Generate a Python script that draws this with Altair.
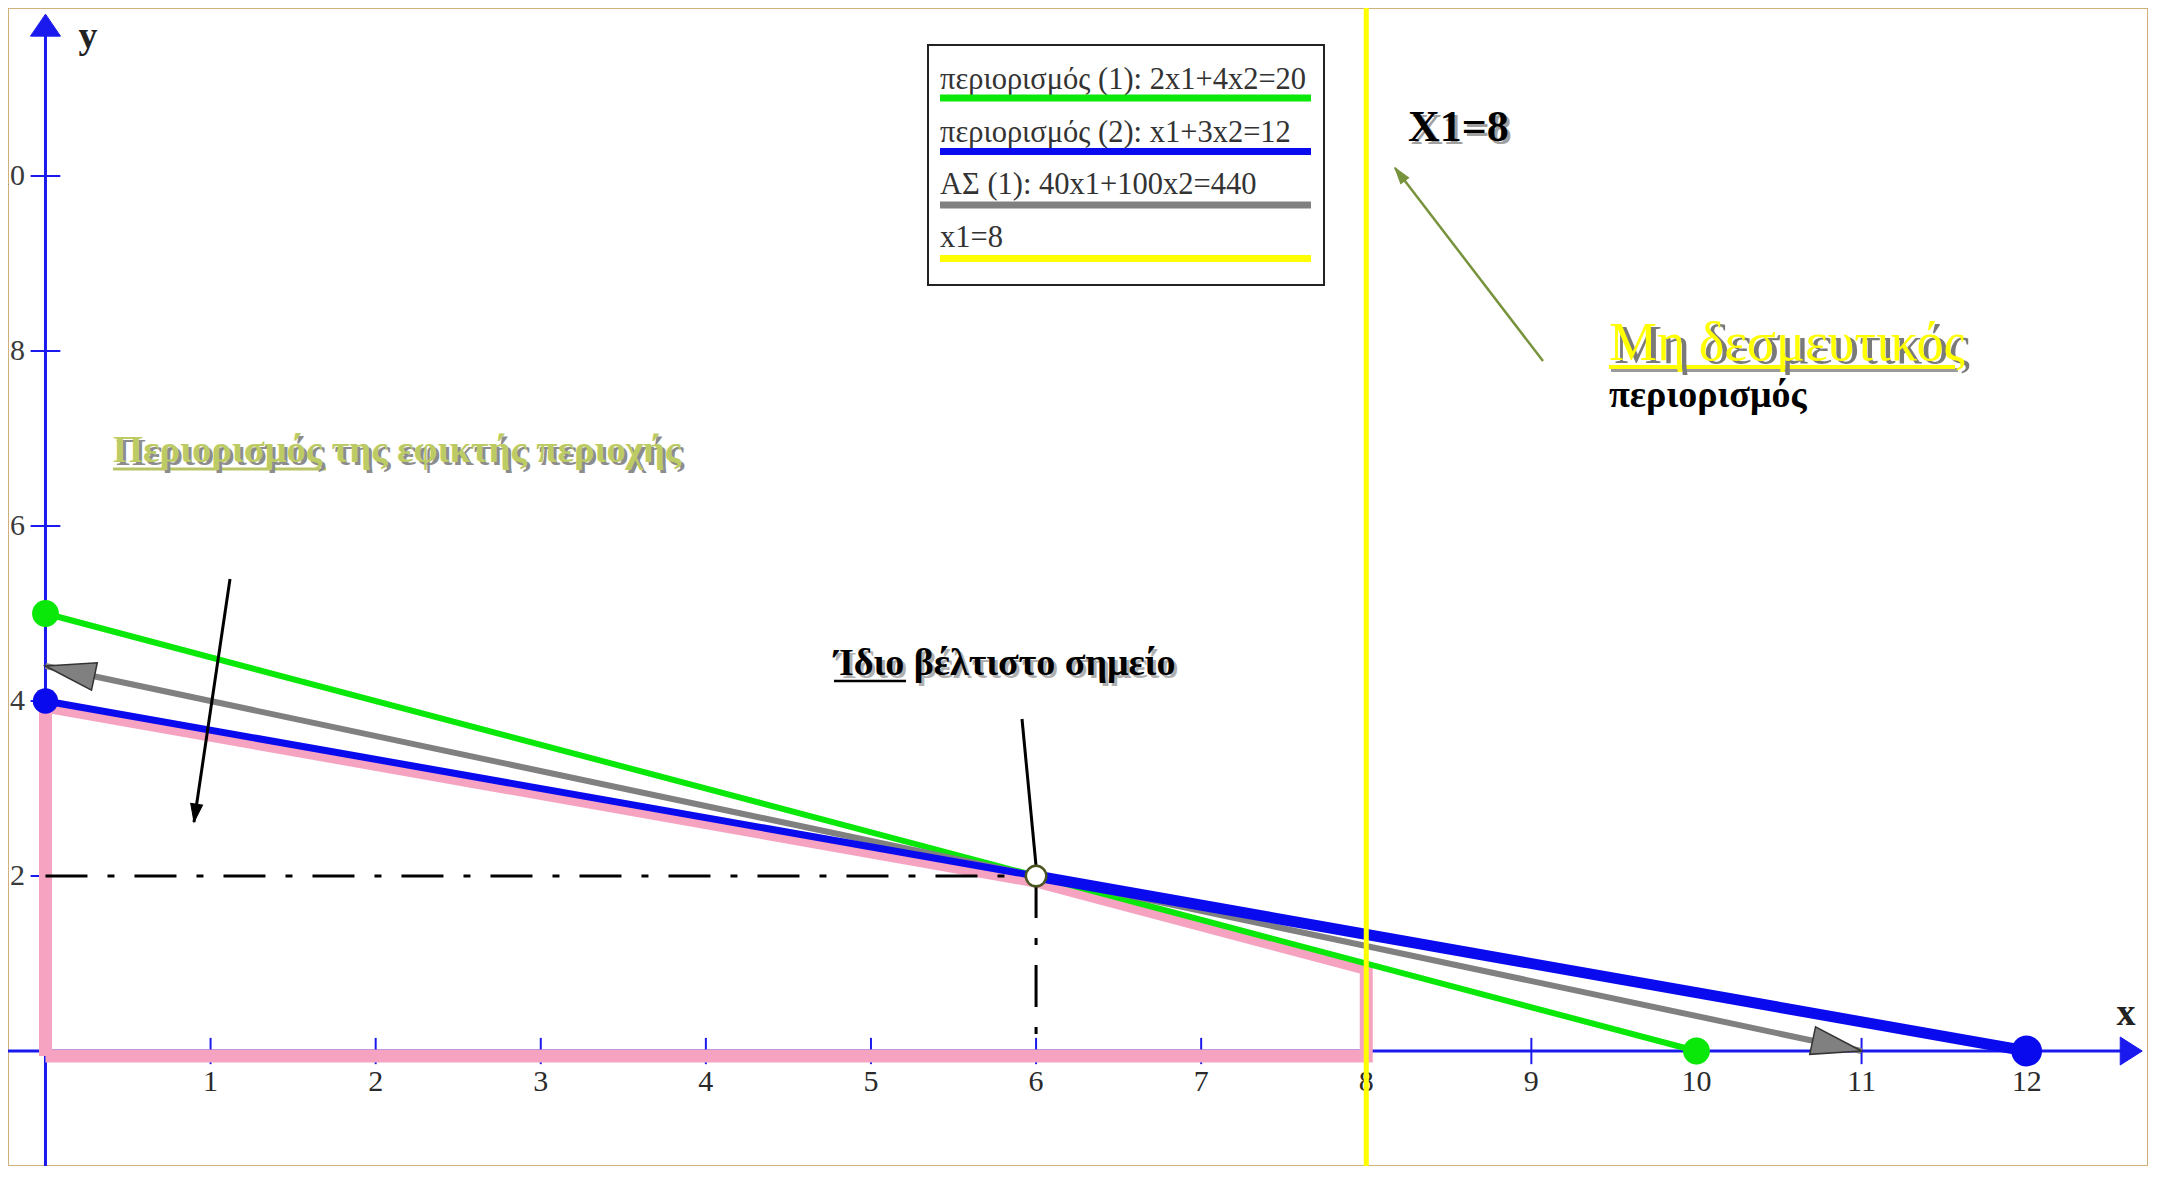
import math
import altair as alt
import pandas as pd

# ---------------- data ----------------
x_tick_values = [1, 2, 3, 4, 5, 6, 7, 8, 9, 10, 11, 12]
x_tick_labels = ["1", "2", "3", "4", "5", "6", "7", "8", "9", "10", "11", "12"]
y_tick_values = [2, 4, 6, 8, 10]
y_tick_labels = ["2", "4", "6", "8", "10"]

# constraint (1): 2x1 + 4x2 = 20
c1_x = [0, 10]
c1_y = [5, 0]
# constraint (2): x1 + 3x2 = 12  (drawn thinner up to the optimum, thicker after it)
c2_x = [0, 6, 12]
c2_y = [4, 2, 0]
# objective line 40x1 + 100x2 = 440
obj_x = [0, 11]
obj_y = [4.4, 0]
# constraint x1 = 8
bound_x = 8
# feasible region outline
region_x = [0, 0, 6, 8, 8, 0]
region_y = [0, 4, 2, 1, 0, 0]
# optimum
opt_x = 6
opt_y = 2

legend_labels = [
    "περιορισμός (1): 2x1+4x2=20",
    "περιορισμός (2): x1+3x2=12",
    "ΑΣ (1): 40x1+100x2=440",
    "x1=8",
]

# ---------------- styles ----------------
GREEN = "#0ae80a"
BLUE = "#0a0aef"
GRAY = "#808080"
YELLOW = "#ffff00"
PINK = "#f6a3c2"
OLIVE = "#77933c"
AXIS = "#1a1aee"
SERIF = "Liberation Serif"
legend_colors = [GREEN, BLUE, GRAY, YELLOW]

# ---------------- layout ----------------
W, H = 2140, 1158
X0, X1 = -0.227, 12.735
Y0, Y1 = -1.314, 11.92
PX = W / (X1 - X0)
PY = H / (Y1 - Y0)


def xd(px):
    return X0 + (px - 8) / PX


def yd(py):
    return Y1 - (py - 8) / PY


xs = alt.Scale(domain=[X0, X1], nice=False, zero=False)
ys = alt.Scale(domain=[Y0, Y1], nice=False, zero=False)


def XE(f="x"):
    return alt.X(f"{f}:Q", scale=xs, axis=None)


def YE(f="y"):
    return alt.Y(f"{f}:Q", scale=ys, axis=None)


def segs(xa, ya, xb, yb, **kw):
    df = pd.DataFrame({"x": xa, "y": ya, "x2": xb, "y2": yb})
    return alt.Chart(df).mark_rule(**kw).encode(x=XE(), y=YE(), x2="x2:Q", y2="y2:Q")


def pts(xv, yv, **kw):
    df = pd.DataFrame({"x": xv, "y": yv})
    return alt.Chart(df).mark_point(**kw).encode(x=XE(), y=YE())


def txt(x, y, s, **kw):
    df = pd.DataFrame({"x": [x], "y": [y], "t": [s]})
    base = dict(font=SERIF)
    base.update(kw)
    return alt.Chart(df).mark_text(**base).encode(x=XE(), y=YE(), text="t:N")


def head(xt, yt, xb, yb, length, width, **kw):
    bx = (xb - xt) * PX
    by = -(yb - yt) * PY
    ang = math.degrees(math.atan2(by, bx)) % 360
    h = width / length
    path = f"M0,0 L2,{-h:.3f} L2,{h:.3f} Z"
    return pts([xt], [yt], shape=path, size=length ** 2, angle=round(ang, 2),
               filled=True, opacity=1, **kw)


layers = []

# ---- axes ----
layers.append(segs([X0], [0], [12.6], [0], color=AXIS, strokeWidth=3))
layers.append(segs([0], [Y0], [0], [11.75], color=AXIS, strokeWidth=3))
layers.append(head(0, 11.85, 0, 0, 22, 30, fill=AXIS, stroke=AXIS, strokeWidth=1))
layers.append(head(12.70, 0, 0, 0, 22, 28, fill=AXIS, stroke=AXIS, strokeWidth=1))
layers.append(segs(x_tick_values, [-0.15] * len(x_tick_values), x_tick_values,
                   [0.15] * len(x_tick_values), color=AXIS, strokeWidth=2))
layers.append(segs([-0.09] * len(y_tick_values), y_tick_values, [0.09] * len(y_tick_values),
                   y_tick_values, color=AXIS, strokeWidth=2))

xl = pd.DataFrame({"x": x_tick_values, "y": [yd(1082)] * len(x_tick_values),
                   "t": x_tick_labels})
layers.append(alt.Chart(xl).mark_text(font=SERIF, fontSize=30, color="#2a2a2a",
                                      baseline="middle", align="center")
              .encode(x=XE(), y=YE(), text="t:N"))
yl = pd.DataFrame({"x": [xd(25)] * len(y_tick_values), "y": y_tick_values,
                   "t": y_tick_labels})
layers.append(alt.Chart(yl).mark_text(font=SERIF, fontSize=30, color="#3a3a3a",
                                      baseline="middle", align="right", clip=True)
              .encode(x=XE(), y=YE(), text="t:N"))

# ---- feasible region ----
rdf = pd.DataFrame({"x": region_x, "y": region_y, "i": list(range(len(region_x)))})
layers.append(alt.Chart(rdf).mark_line(color=PINK, strokeWidth=13, strokeJoin="miter",
                                       yOffset=5, opacity=1)
              .encode(x=XE(), y=YE(), order="i:Q"))

# ---- dash-dot guides to the optimum ----
layers.append(segs([0], [opt_y], [opt_x], [opt_y], color="black", strokeWidth=3,
                   strokeDash=[42, 20, 7, 20]))
layers.append(segs([opt_x], [opt_y], [opt_x], [0], color="black", strokeWidth=3,
                   strokeDash=[42, 20, 7, 20]))

# ---- constraint and objective lines ----
layers.append(segs([c1_x[0]], [c1_y[0]], [c1_x[1]], [c1_y[1]], color=GREEN, strokeWidth=6))
layers.append(segs([obj_x[0]], [obj_y[0]], [obj_x[1]], [obj_y[1]], color=GRAY, strokeWidth=6))
layers.append(segs([c2_x[0]], [c2_y[0]], [c2_x[1]], [c2_y[1]], color=BLUE, strokeWidth=7))
layers.append(segs([c2_x[1]], [c2_y[1]], [c2_x[2]], [c2_y[2]], color=BLUE, strokeWidth=11))

layers.append(head(obj_x[0], obj_y[0], obj_x[1], obj_y[1], 50, 28, fill=GRAY,
                   stroke="#333333", strokeWidth=1.5))
layers.append(head(obj_x[1], obj_y[1], obj_x[0], obj_y[0], 50, 28, fill=GRAY,
                   stroke="#333333", strokeWidth=1.5))

layers.append(pts([c1_x[0], c1_x[-1]], [c1_y[0], c1_y[-1]], shape="circle", filled=True,
                  color=GREEN, size=720, opacity=1))
layers.append(pts([c2_x[0]], [c2_y[0]], shape="circle", filled=True, color=BLUE, size=640,
                  opacity=1))
layers.append(pts([c2_x[-1]], [c2_y[-1]], shape="circle", filled=True, color=BLUE, size=950,
                  opacity=1))

# ---- x1 = 8 ----
layers.append(segs([bound_x], [Y0], [bound_x], [Y1], color=YELLOW, strokeWidth=5))

# ---- optimum point and annotation arrows ----
layers.append(segs([xd(1022)], [yd(719)], [opt_x], [yd(866)], color="black", strokeWidth=3))
layers.append(pts([opt_x], [opt_y], shape="circle", filled=True, fill="white",
                  stroke="#4a5522", strokeWidth=2.5, size=420, opacity=1))

a_x0, a_y0, a_x1, a_y1 = xd(230), yd(579), xd(194), yd(822)
layers.append(segs([a_x0], [a_y0], [a_x1], [a_y1], color="black", strokeWidth=3))
layers.append(head(a_x1, a_y1, a_x0, a_y0, 18, 12, fill="black", stroke="black",
                   strokeWidth=1))

b_x0, b_y0, b_x1, b_y1 = xd(1543), yd(361), xd(1395), yd(168)
layers.append(segs([b_x0], [b_y0], [b_x1], [b_y1], color=OLIVE, strokeWidth=2.5))
layers.append(head(b_x1, b_y1, b_x0, b_y0, 16, 10, fill=OLIVE, stroke=OLIVE,
                   strokeWidth=1))

# ---- axis names ----
layers.append(txt(xd(88), yd(37), "y", fontSize=38, fontWeight="bold", color="#222222",
                  align="center", baseline="middle"))
layers.append(txt(xd(2126), yd(1014), "x", fontSize=38, fontWeight="bold", color="#222222",
                  align="center", baseline="middle"))

# ---- annotation texts (each with a drop shadow as in the picture) ----
layers.append(txt(xd(1408), yd(141), "X1=8", fontSize=44, fontWeight="bold", color="#a0a0a0",
                  align="left", baseline="alphabetic", dx=3, dy=3))
layers.append(txt(xd(1408), yd(141), "X1=8", fontSize=44, fontWeight="bold", color="black",
                  align="left", baseline="alphabetic"))

layers.append(segs([xd(1611)], [yd(370)], [xd(1958)], [yd(370)], color="#9a9a9a",
                   strokeWidth=4))
layers.append(segs([xd(1609)], [yd(367)], [xd(1955)], [yd(367)], color=YELLOW,
                   strokeWidth=4))
layers.append(txt(xd(1609), yd(360), "Μη δεσμευτικός", fontSize=54, color="#7a7a7a",
                  align="left", baseline="alphabetic", dx=5, dy=3))
layers.append(txt(xd(1609), yd(360), "Μη δεσμευτικός", fontSize=54, color=YELLOW,
                  align="left", baseline="alphabetic"))
layers.append(txt(xd(1609), yd(407), "περιορισμός", fontSize=38, fontWeight="bold",
                  color="black", align="left", baseline="alphabetic"))

layers.append(segs([xd(113)], [yd(469)], [xd(326)], [yd(469)], color="#b8c466",
                   strokeWidth=3))
layers.append(txt(xd(113), yd(462), "Περιορισμός της εφικτής περιοχής", fontSize=38.5,
                  fontWeight="bold", color="#8c8c8c", align="left", baseline="alphabetic",
                  dx=3, dy=3))
layers.append(txt(xd(113), yd(462), "Περιορισμός της εφικτής περιοχής", fontSize=38.5,
                  fontWeight="bold", color="#bccb63", align="left", baseline="alphabetic"))

layers.append(segs([xd(834)], [yd(681)], [xd(906)], [yd(681)], color="black",
                   strokeWidth=2.5))
layers.append(txt(xd(834), yd(675), "Ίδιο βέλτιστο σημείο", fontSize=38, fontWeight="bold",
                  color="#b0b0b0", align="left", baseline="alphabetic", dx=3, dy=3))
layers.append(txt(xd(834), yd(675), "Ίδιο βέλτιστο σημείο", fontSize=38, fontWeight="bold",
                  color="black", align="left", baseline="alphabetic"))

# ---- legend box ----
box = pd.DataFrame({"x": [xd(928)], "y": [yd(285)], "x2": [xd(1324)], "y2": [yd(45)]})
layers.append(alt.Chart(box).mark_rect(fill="white", stroke="#222222", strokeWidth=2)
              .encode(x=XE(), y=YE(), x2="x2:Q", y2="y2:Q"))
for i, (lab, col) in enumerate(zip(legend_labels, legend_colors)):
    ty = 89 + 52.5 * i
    ly = 98 + 53.5 * i
    layers.append(txt(xd(940), yd(ty), lab, fontSize=30.5, color="#333333", align="left",
                      baseline="alphabetic"))
    layers.append(segs([xd(940)], [yd(ly)], [xd(1311)], [yd(ly)], color=col, strokeWidth=7))

chart = (
    alt.layer(*layers)
    .properties(width=W, height=H, padding=0, autosize="none", background="white")
    .configure_view(stroke="#d2b07c", strokeWidth=2)
)

chart.save("out.html", embed_options={"renderer": "svg", "actions": False})
